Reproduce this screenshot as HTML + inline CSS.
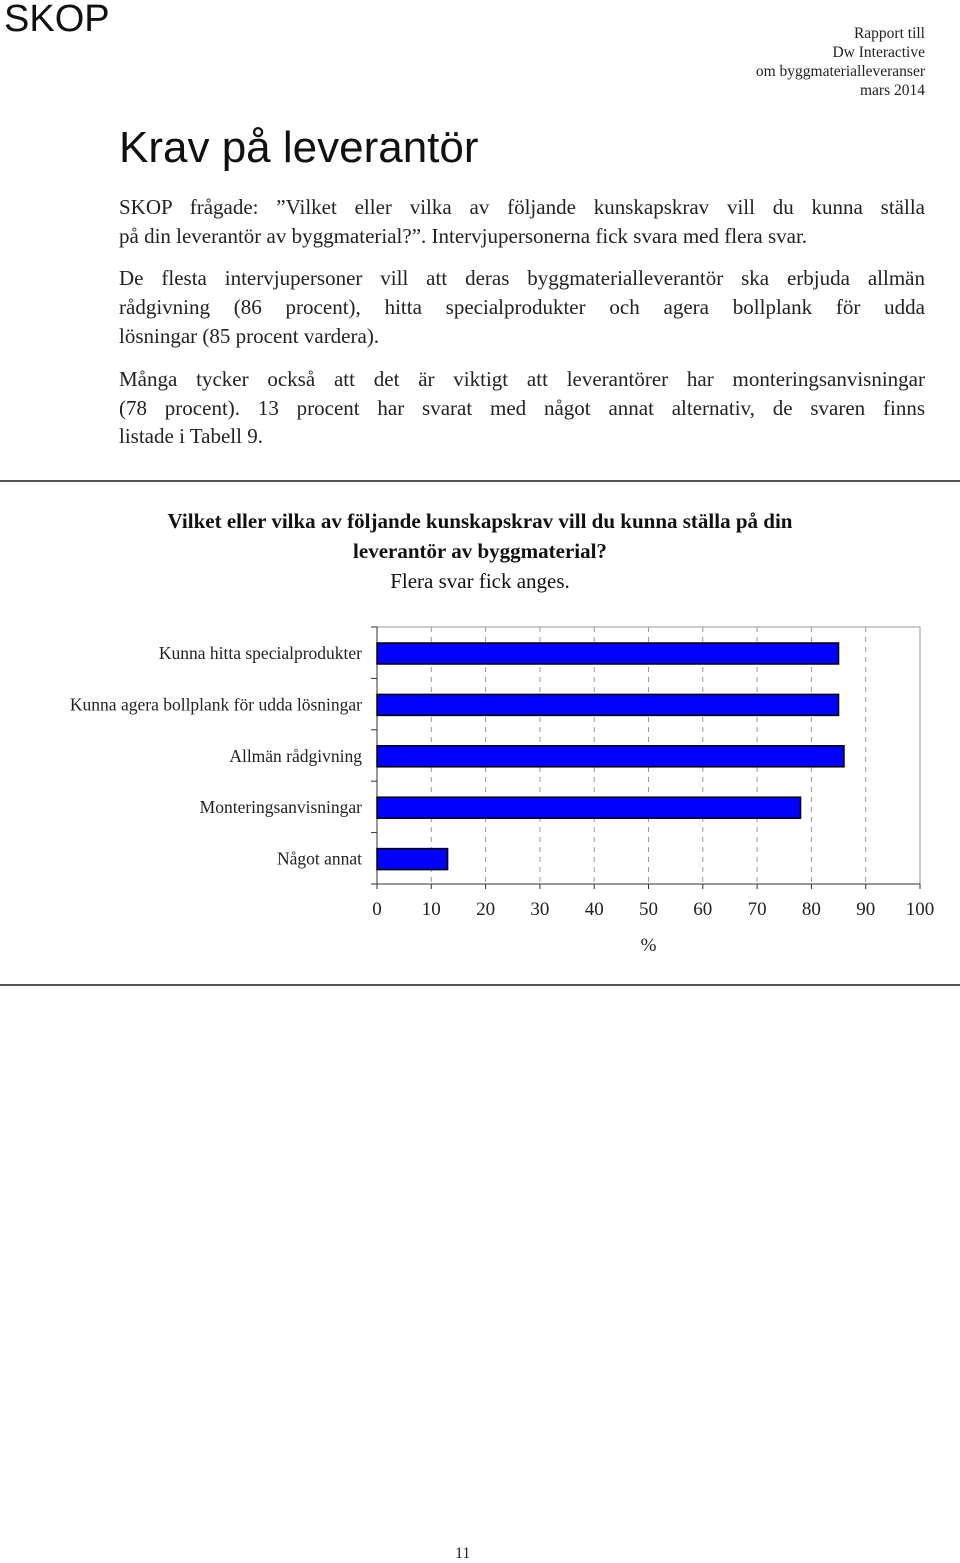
<!DOCTYPE html>
<html><head><meta charset="utf-8"><style>
body{margin:0;width:960px;height:1557px;background:#fff;position:relative;font-family:"Liberation Serif",serif;color:#222;overflow:hidden}
.a{position:absolute}
.l{position:absolute;left:119px;width:806px;font-size:21px;line-height:29px;white-space:nowrap;text-align:justify;text-align-last:justify}
.l.e{text-align-last:left}
</style></head><body>
<div class="a" style="left:4px;top:-2px;font:38px 'Liberation Sans',sans-serif;color:#111">SKOP</div>
<div class="a" style="right:35px;top:24px;text-align:right;font-size:15.5px;line-height:19px">Rapport till<br>Dw Interactive<br>om byggmaterialleveranser<br>mars 2014</div>
<div class="a" style="left:119px;top:123px;font:44px 'Liberation Sans',sans-serif;color:#111">Krav på leverantör</div>
<div>
<div class="l" style="top:193px">SKOP frågade: ”Vilket eller vilka av följande kunskapskrav vill du kunna ställa</div>
<div class="l e" style="top:222px">på din leverantör av byggmaterial?”. Intervjupersonerna fick svara med flera svar.</div>
</div>
<div>
<div class="l" style="top:264px">De flesta intervjupersoner vill att deras byggmaterialleverantör ska erbjuda allmän</div>
<div class="l" style="top:293px">rådgivning (86 procent), hitta specialprodukter och agera bollplank för udda</div>
<div class="l e" style="top:322px">lösningar (85 procent vardera).</div>
</div>
<div>
<div class="l" style="top:365px">Många tycker också att det är viktigt att leverantörer har monteringsanvisningar</div>
<div class="l" style="top:394px">(78 procent). 13 procent har svarat med något annat alternativ, de svaren finns</div>
<div class="l e" style="top:422px">listade i Tabell 9.</div>
</div>
<div class="a" style="left:0;top:480px;width:960px;height:2px;background:#555"></div>
<div class="a" style="left:0;width:960px;top:506px;text-align:center;font-size:21px;line-height:30px;color:#111"><b>Vilket eller vilka av följande kunskapskrav vill du kunna ställa på din<br>leverantör av byggmaterial?</b><br>Flera svar fick anges.</div>
<svg class="a" style="left:0;top:0" width="960" height="1000" id="chart"></svg>
<div class="a" style="left:0;top:984px;width:960px;height:2px;background:#555"></div>
<div class="a" style="left:455px;top:1567px;font-size:16px;transform:translateY(-22px)">11</div>
<script>
const categories=["Kunna hitta specialprodukter","Kunna agera bollplank för udda lösningar","Allmän rådgivning","Monteringsanvisningar","Något annat"];
const values=[85,85,86,78,13];
const ticks=[0,10,20,30,40,50,60,70,80,90,100];
const svg=document.getElementById('chart');
const NS="http://www.w3.org/2000/svg";
const X0=377,X1=920,Y0=627,Y1=884;
const x=v=>X0+(v/100)*(X1-X0);
const band=(Y1-Y0)/categories.length;
function mk(t,a,txt){const e=document.createElementNS(NS,t);for(const k in a)e.setAttribute(k,a[k]);if(txt!==undefined)e.textContent=txt;svg.appendChild(e);return e;}
let e=mk('rect',{x:X0,y:Y0,width:X1-X0,height:Y1-Y0,fill:'none',stroke:'#999'});


ticks.forEach(t=>{
 if(t>0&&t<100){const g=mk('line',{x1:x(t),x2:x(t),y1:Y0,y2:Y1,stroke:'#999','stroke-dasharray':'5,5'});
 
 }
 const tk=mk('line',{x1:x(t),x2:x(t),y1:Y1,y2:Y1+5,stroke:'#333'});
 
 
 const l=mk('text',{x:x(t),y:915,'text-anchor':'middle','font-size':19,fill:'#222','font-family':'Liberation Serif,serif'},t);
 
 
});
mk('line',{x1:X0,x2:X0,y1:Y0,y2:Y1,stroke:'#333'});
mk('line',{x1:X0,x2:X1,y1:Y1,y2:Y1,stroke:'#333'});
for(let i=0;i<=categories.length;i++){mk('line',{x1:X0-6,x2:X0,y1:Y0+i*band,y2:Y0+i*band,stroke:'#333'});}
categories.forEach((c,i)=>{
 const b=mk('rect',{x:X0,y:Y0+i*band+16,width:x(values[i])-X0,height:21,fill:'#0000ff',stroke:'#000','stroke-width':1.5});
 
 
 const l=mk('text',{x:362,y:Y0+i*band+32,'text-anchor':'end','font-size':17.5,fill:'#222','font-family':'Liberation Serif,serif'},c);
 
 
});
const xt=mk('text',{x:x(50),y:951,'text-anchor':'middle','font-size':19,fill:'#222','font-family':'Liberation Serif,serif'},'%');


</script>
</body></html>
